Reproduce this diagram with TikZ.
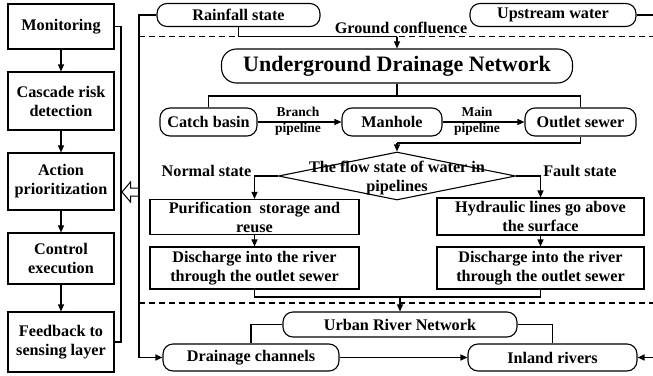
\documentclass[tikz,border=0pt]{standalone}
\usepackage{fontspec}
\setmainfont{Liberation Serif}
\usetikzlibrary{arrows.meta,shapes.geometric}
\tikzset{
  every node/.style={font=\bfseries\fontsize{16.2}{19}\selectfont},
  sq/.style={draw, line width=1.1pt, align=center, inner sep=1pt},
  rnd/.style={draw, line width=1.1pt, rounded corners=10pt, align=center, inner sep=1pt},
  ln/.style={line width=1.1pt},
  arr/.style={line width=1.1pt, -{Triangle[length=7pt,width=6pt]}},
  dsh/.style={line width=1.1pt, dash pattern=on 6pt off 4pt},
  lbl/.style={align=center, inner sep=0pt},
  small/.style={font=\bfseries\fontsize{13.5}{16}\selectfont, align=center, inner sep=0pt}
}
\begin{document}
\begin{tikzpicture}[x=1pt,y=-1pt]
\useasboundingbox (0,0) rectangle (653,375);
% left column
\node[sq, minimum width=106, minimum height=45] (mon) at (61,26.5) {Monitoring};
\node[sq, minimum width=106, minimum height=58] (cas) at (61,101) {Cascade risk\\detection};
\node[sq, minimum width=106, minimum height=57] (act) at (61,181.5) {Action\\prioritization};
\node[sq, minimum width=106, minimum height=51] (ctl) at (61,258.5) {Control\\execution};
\node[sq, minimum width=106, minimum height=60] (fb) at (61,342) {Feedback to\\sensing layer};
\draw[arr] (mon) -- (cas);
\draw[arr] (cas) -- (act);
\draw[arr] (act) -- (ctl);
\draw[arr] (ctl) -- (fb);
\coordinate (lbus) at (121,150);
\draw[ln] (mon.east) -| (lbus) |- (fb.east);
% hollow arrow
\draw[line width=1pt, fill=white] (139,188) -- (130.5,188) -- (130.5,182) -- (122,192) -- (130.5,202) -- (130.5,196) -- (139,196);
% top row
\node[rnd, minimum width=163, minimum height=23] (rain) at (238.5,15) {Rainfall state};
\node[rnd, minimum width=166, minimum height=23] (up) at (553,15) {Upstream water};
\coordinate (rtop) at (653,15);
\draw[ln] (up.east) -- (rtop);
% dashed lines
\coordinate (d1l) at (139,36.5);
\coordinate (d1r) at (653,36.5);
\draw[dsh] (d1l) -- (d1r);
\coordinate (d2l) at (139,303);
\coordinate (d2r) at (653,303);
\draw[dsh] (d2l) -- (d2r);
% underground
\node[rnd, rounded corners=15pt, minimum width=351, minimum height=34, font=\bfseries\fontsize{22}{26}\selectfont] (udn) at (397,66) {Underground Drainage Network};
\coordinate (gc) at (397,36.5);
\draw[ln] (rain.south) |- (gc);
\draw[arr] (gc) -- (udn.north);
\node[lbl] (gcl) at (401,28) {Ground confluence};
% second row
\node[rnd, minimum width=97, minimum height=28] (catch) at (208.5,122) {Catch basin};
\node[rnd, minimum width=100, minimum height=28] (man) at (392,122) {Manhole};
\node[rnd, minimum width=111, minimum height=28] (out) at (580.5,122) {Outlet sewer};
\coordinate (hb) at (397,96);
\draw[ln] (udn.south) -- (hb);
\draw[ln] (catch.north) |- (hb) -| (out.north);
\draw[arr] (catch.east) -- (man.west);
\draw[arr] (man.east) -- (out.west);
\node[small] (bl) at (298,121.5) {Branch\\pipeline};
\node[small] (ml) at (477,121.5) {Main\\pipeline};
% diamond
\node[draw, diamond, line width=1.1pt, minimum width=237, minimum height=48, inner sep=0pt] (dia) at (397,176) {};
\node[lbl] (diat) at (397,178) {The flow state of water in\\pipelines};
\coordinate (ob) at (397,143);
\draw[ln] (out.south) |- (ob);
\draw[arr] (ob) -- (dia.north);
\node[lbl] (nsl) at (206.5,171) {Normal state};
\node[lbl] (fsl) at (580,171) {Fault state};
% state boxes
\node[sq, minimum width=209, minimum height=35] (pur) at (254.5,217) {Purification\ \ storage and\\reuse};
\node[sq, minimum width=207, minimum height=37] (hyd) at (540.5,216.5) {Hydraulic lines go above\\the surface};
\draw[arr] (dia.west) -| (pur.north);
\draw[arr] (dia.east) -| (hyd.north);
\node[sq, minimum width=209, minimum height=42] (dis1) at (254.5,268) {Discharge into the river\\through the outlet sewer};
\node[sq, minimum width=207, minimum height=42] (dis2) at (540.5,268) {Discharge into the river\\through the outlet sewer};
\draw[arr] (pur) -- (dis1);
\draw[arr] (hyd) -- (dis2);
% bottom
\node[rnd, minimum width=234, minimum height=25] (urn) at (400,324.5) {Urban River Network};
\node[rnd, minimum width=176, minimum height=27] (drain) at (251,357.5) {Drainage channels};
\node[rnd, minimum width=169, minimum height=27] (inl) at (552.5,357.5) {Inland rivers};
\coordinate (rbus) at (139,200);
\draw[arr] (rain.west) -| (rbus) |- (drain.west);
\coordinate (mb) at (400,297);
\draw[ln] (dis1.south) |- (mb);
\draw[ln] (dis2.south) |- (mb);
\draw[arr] (mb) -- (urn.north);
\draw[ln] (urn.west) -| (drain.north);
\draw[ln] (urn.east) -| (inl.north);
\draw[arr] (drain.east) -- (inl.west);
\coordinate (rbot) at (653,357.5);
\draw[arr] (rbot) -- (inl.east);
\end{tikzpicture}
\end{document}
